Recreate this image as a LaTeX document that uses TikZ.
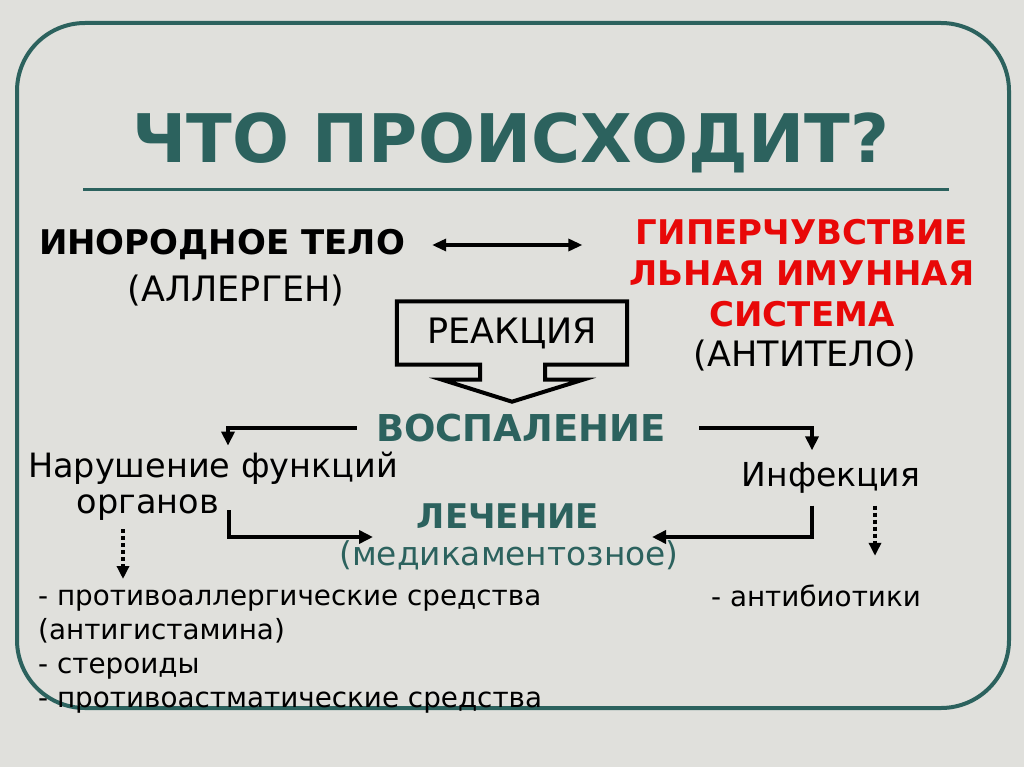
\documentclass[tikz,border=0pt]{standalone}
\usepackage{fontspec}
\setmainfont{DejaVu Sans}
\usepackage{xcolor}
\usepackage{tikz}
\usetikzlibrary{arrows.meta,positioning,calc}
\definecolor{fond}{RGB}{224,224,220}
\definecolor{sarcelle}{RGB}{44,98,94}
\definecolor{rouge}{RGB}{232,8,8}

\begin{document}
\begin{tikzpicture}[x=1pt,y=-1pt,
    txt/.style={inner sep=0pt,font=\fontsize{33.5}{38}\selectfont},
    petit/.style={inner sep=0pt,font=\fontsize{27.8}{34}\selectfont},
    caps/.style={inner sep=0pt,font=\fontsize{35}{40}\selectfont},
    gras/.style={inner sep=0pt,font=\bfseries\fontsize{34}{41}\selectfont},
    fleche/.style={line width=3.5pt,-{Triangle[length=14pt,width=13pt]}},
    pointille/.style={line width=4pt,dash pattern=on 4pt off 3pt,-{Triangle[length=13pt,width=12pt]}}]
      \fill[fond] (0,0) rectangle (1024,767);
      \draw[sarcelle,line width=4pt,rounded corners=68pt] (17,23) rectangle (1009,708);
      % titre
      \node[inner sep=0pt,text=sarcelle,font=\bfseries\fontsize{67}{72}\selectfont] (titre) at (511,143) {ЧТО ПРОИСХОДИТ?};
      \draw[sarcelle,line width=3pt] (83,190) -- (949,190);
      % haut
      \node[gras] (corps) at (222,245) {ИНОРОДНОЕ ТЕЛО};
      \node[caps] (allergene) at (236,291) {(АЛЛЕРГЕН)};
      \node[gras,text=rouge,align=center] (hyper) at (802,273) {ГИПЕРЧУВСТВИЕ\\ЛЬНАЯ ИМУННАЯ\\СИСТЕМА};
      \node[caps] (anticorps) at (805,356) {(АНТИТЕЛО)};
      \draw[line width=3.2pt,{Triangle[length=14pt,width=12pt]}-{Triangle[length=14pt,width=12pt]},
        shorten <=27pt,shorten >=47pt] (corps.east) -- (corps.east -| hyper.west);
      % reaction
      \node[caps,minimum width=230pt,minimum height=63pt] (reaction) at (512,333) {РЕАКЦИЯ};
      \draw[line width=4pt,line join=miter] (reaction.north west) -- (reaction.north east)
        -- (reaction.south east) -- ($(reaction.south)+(33,0)$) -- ($(reaction.south)+(33,15)$)
        -- ($(reaction.south)+(71,15)$) -- ($(reaction.south)+(0,37)$) -- ($(reaction.south)+(-70,15)$)
        -- ($(reaction.south)+(-32,15)$) -- ($(reaction.south)+(-32,0)$) -- (reaction.south west) -- cycle;
      % milieu
      \node[gras,text=sarcelle,font=\bfseries\fontsize{37}{41}\selectfont] (inflam) at (521,428) {ВОСПАЛЕНИЕ};
      \node[txt] (trouble) at (213,468) {Нарушение функций};
      \node[txt] (organes) at (148,508) {органов};
      \node[txt,font=\fontsize{33}{38}\selectfont] (infection) at (831,478) {Инфекция};
      \node[gras,text=sarcelle] (traitement) at (508,516) {ЛЕЧЕНИЕ};
      \node[txt,text=sarcelle,font=\fontsize{32.8}{38}\selectfont] (medic) at (509,555) {(медикаментозное)};
      \draw[fleche,shorten <=19pt] (inflam.west) -| ([xshift=15pt,yshift=6pt]trouble.north);
      \draw[fleche,shorten <=33pt] (inflam.east) -| ([xshift=-19pt,yshift=12pt]infection.north);
      \coordinate (gauche) at (373,537);
      \coordinate (droite) at (652,537);
      \draw[fleche] ([xshift=10pt,yshift=-2pt]organes.east) |- (gauche);
      \draw[fleche] ([xshift=-19pt,yshift=-12pt]infection.south) |- (droite);
      % listes
      \node[petit,align=left,anchor=north west] (liste) at (38,590)
        {- противоаллергические средства\\(антигистамина)\\- стероиды\\- противоастматические средства};
      \node[petit] (antibio) at (816,596) {- антибиотики};
      \draw[pointille] ([xshift=-25pt,yshift=-8pt]organes.south) -- ($(organes.south |- liste.north)+(-25,-11)$);
      \draw[pointille] ([xshift=44pt,yshift=-12pt]infection.south) -- ($(infection.south |- antibio.north)+(44,-29)$);
    \end{tikzpicture}
\end{document}
